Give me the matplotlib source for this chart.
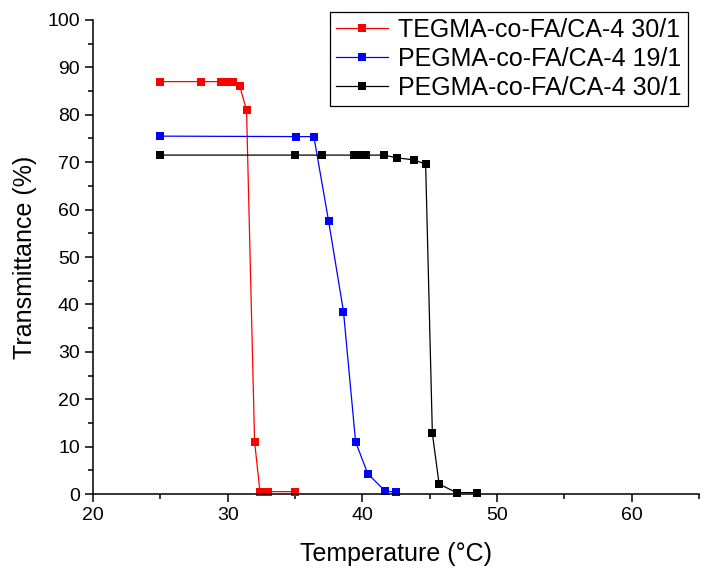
import matplotlib
matplotlib.use("Agg")
import matplotlib.pyplot as plt
from matplotlib.ticker import MultipleLocator

plt.rcParams['font.family'] = ['Liberation Sans', 'DejaVu Sans']

# data
tegma_30_T = [25, 28, 29.5, 30.0, 30.4, 30.9, 31.4, 32.0, 32.4, 33.0, 35.0]
tegma_30_tr = [87, 87, 87, 87, 87, 86, 81, 11, 0.5, 0.5, 0.5]

pegma_19_T = [25, 35.1, 36.4, 37.5, 38.6, 39.5, 40.4, 41.7, 42.5]
pegma_19_tr = [75.5, 75.4, 75.4, 57.5, 38.5, 11, 4.3, 0.6, 0.4]

pegma_30_T = [25, 35.0, 37.0, 39.4, 39.9, 40.3, 41.6, 42.6, 43.8, 44.7, 45.2, 45.7, 47.0, 48.5]
pegma_30_tr = [71.5, 71.5, 71.5, 71.5, 71.5, 71.5, 71.5, 70.9, 70.5, 69.6, 12.8, 2.1, 0.3, 0.3]

labels = ['TEGMA-co-FA/CA-4 30/1', 'PEGMA-co-FA/CA-4 19/1', 'PEGMA-co-FA/CA-4 30/1']

fig = plt.figure(figsize=(7.10, 5.81), dpi=100)
ax = fig.add_axes([0.131, 0.1497, 0.8535, 0.8159])

series = [(tegma_30_T, tegma_30_tr, '#ff0000'),
          (pegma_19_T, pegma_19_tr, '#0000ff'),
          (pegma_30_T, pegma_30_tr, '#000000')]
for (x, y, c), lab in zip(series, labels):
    ax.plot(x, y, color=c, lw=0.9, marker='s', markersize=6.2,
            markeredgewidth=0, label=lab, clip_on=False)

ax.set_xlim(20, 65)
ax.set_ylim(0, 100)
ax.xaxis.set_major_locator(MultipleLocator(10))
ax.xaxis.set_minor_locator(MultipleLocator(5))
ax.yaxis.set_major_locator(MultipleLocator(10))
ax.yaxis.set_minor_locator(MultipleLocator(5))

ax.spines['top'].set_visible(False)
ax.spines['right'].set_visible(False)
for s in ('left', 'bottom'):
    ax.spines[s].set_linewidth(1.1)
ax.tick_params(which='major', direction='out', length=6, width=1.1, labelsize=14)
ax.tick_params(which='minor', direction='out', length=3.5, width=1.1)

ax.set_xlabel('Temperature (°C)', fontsize=18, labelpad=13)
ax.set_ylabel('Transmittance (%)', fontsize=18, labelpad=7)

leg = ax.legend(loc='upper right', bbox_to_anchor=(0.982, 1.017), borderaxespad=0,
                fontsize=18, handlelength=2.1, handletextpad=0.4, labelspacing=0.2,
                borderpad=0.25, fancybox=False, framealpha=1, edgecolor='black')
leg.get_frame().set_linewidth(0.9)

fig.savefig('out.png', dpi=100)
